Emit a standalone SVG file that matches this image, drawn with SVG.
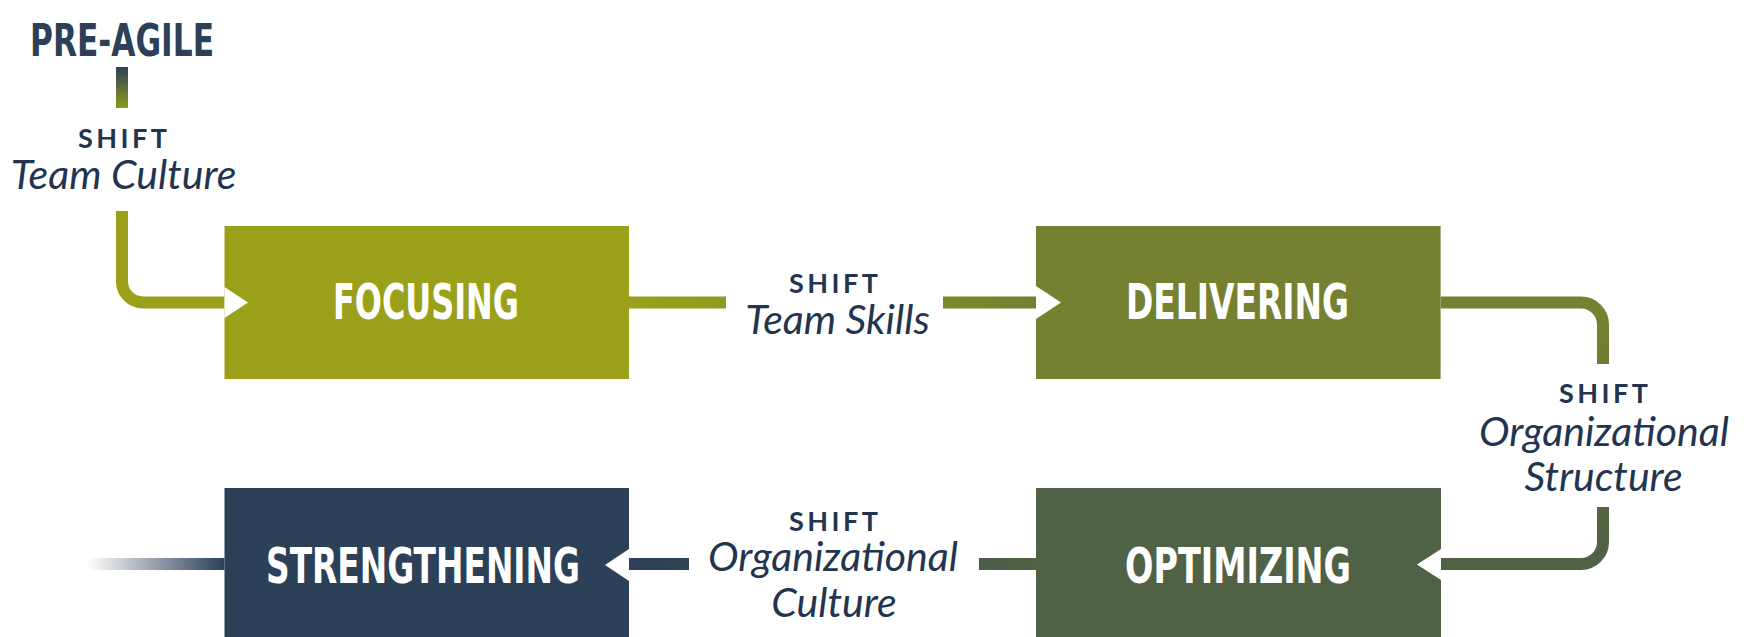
<svg xmlns="http://www.w3.org/2000/svg" width="1751" height="637" viewBox="0 0 1751 637">
<style>
.box-label{font-family:"Liberation Sans Narrow","DejaVu Sans Condensed","DejaVu Sans",sans-serif;font-weight:700;font-size:50px;fill:#ffffff;text-anchor:middle}
.shift{font-family:Lato,"Noto Sans",sans-serif;font-weight:700;font-size:27px;fill:#22344f;text-anchor:middle}
.sub{font-family:Lato,"Noto Sans",sans-serif;font-style:italic;font-size:41px;fill:#22344f;text-anchor:middle}
.conn{fill:none;stroke-width:12}
.head{fill:#ffffff}
</style>
<defs>
<linearGradient id="gTop" gradientUnits="userSpaceOnUse" x1="0" y1="67" x2="0" y2="108"><stop offset="0" stop-color="#2c4058"/><stop offset="1" stop-color="#8c9a1e"/></linearGradient>
<linearGradient id="gFD" gradientUnits="userSpaceOnUse" x1="629" y1="0" x2="1036" y2="0"><stop offset="0" stop-color="#9aa01a"/><stop offset="1" stop-color="#758030"/></linearGradient>
<linearGradient id="gDO" gradientUnits="userSpaceOnUse" x1="0" y1="330" x2="0" y2="545"><stop offset="0" stop-color="#758030"/><stop offset="1" stop-color="#4f6245"/></linearGradient>
<linearGradient id="gOS" gradientUnits="userSpaceOnUse" x1="1036" y1="0" x2="629" y2="0"><stop offset="0" stop-color="#4f6245"/><stop offset="1" stop-color="#2c4058"/></linearGradient>
<linearGradient id="gOut" gradientUnits="userSpaceOnUse" x1="87" y1="0" x2="224" y2="0"><stop offset="0" stop-color="#2c4058" stop-opacity="0"/><stop offset="1" stop-color="#2c4058" stop-opacity="1"/></linearGradient>
</defs>
<rect width="1751" height="637" fill="#ffffff"/>
<g id="node-pre-agile">
<text class="box-label" x="122" y="56" style="fill:#2c4058;font-size:44px" textLength="184" lengthAdjust="spacingAndGlyphs">PRE-AGILE</text>
<rect x="116" y="67" width="12" height="41" fill="url(#gTop)"/>
</g>
<g id="node-focusing">
<rect x="224.5" y="226" width="404.5" height="153" fill="#9aa01a"/>
<text class="box-label" x="426" y="319" textLength="186" lengthAdjust="spacingAndGlyphs">FOCUSING</text>
</g>
<g id="node-delivering">
<rect x="1036" y="226" width="404.6" height="153" fill="#758030"/>
<text class="box-label" x="1237.5" y="319" textLength="223" lengthAdjust="spacingAndGlyphs">DELIVERING</text>
</g>
<g id="node-optimizing">
<rect x="1036" y="488" width="405" height="153" fill="#4f6245"/>
<text class="box-label" x="1238" y="583" textLength="226" lengthAdjust="spacingAndGlyphs">OPTIMIZING</text>
</g>
<g id="node-strengthening">
<rect x="224.5" y="488" width="404.5" height="153" fill="#2c4058"/>
<text class="box-label" x="423" y="583" textLength="314" lengthAdjust="spacingAndGlyphs">STRENGTHENING</text>
</g>
<g id="connectors">
<path class="conn" stroke="#9aa01a" d="M122,211 V281.5 A21,21 0 0 0 143,302.5 H224.5"/>
<path class="conn" stroke="url(#gFD)" d="M629,302.5 H726"/>
<path class="conn" stroke="url(#gFD)" d="M943,302.5 H1036"/>
<path class="conn" stroke="url(#gDO)" d="M1440.6,302.5 H1581 A22,22 0 0 1 1603,324.5 V364"/>
<path class="conn" stroke="url(#gDO)" d="M1603,507 V542 A22,22 0 0 1 1581,564 H1441"/>
<path class="conn" stroke="url(#gOS)" d="M1036,564 H979"/>
<path class="conn" stroke="url(#gOS)" d="M689,564 H629"/>
<path class="conn" stroke="url(#gOut)" d="M87,564 H224.5"/>
<polygon class="head" points="224.5,287 248,302.5 224.5,318"/>
<polygon class="head" points="1036,286 1061,302.5 1036,319"/>
<polygon class="head" points="1441,549 1417,564.5 1441,580"/>
<polygon class="head" points="629,549 605,565 629,581"/>
</g>
<g id="labels">
<text class="shift" x="122.5" y="148" textLength="89" lengthAdjust="spacing">SHIFT</text>
<text class="sub" x="123.5" y="189">Team Culture</text>
<text class="shift" x="833.5" y="293" textLength="89" lengthAdjust="spacing">SHIFT</text>
<text class="sub" x="837.5" y="334">Team Skills</text>
<text class="shift" x="1603.5" y="403" textLength="89" lengthAdjust="spacing">SHIFT</text>
<text class="sub" x="1604" y="446">Organizational</text>
<text class="sub" x="1603.5" y="491">Structure</text>
<text class="shift" x="833.5" y="531" textLength="89" lengthAdjust="spacing">SHIFT</text>
<text class="sub" x="833" y="571">Organizational</text>
<text class="sub" x="834" y="617">Culture</text>
</g>
</svg>
